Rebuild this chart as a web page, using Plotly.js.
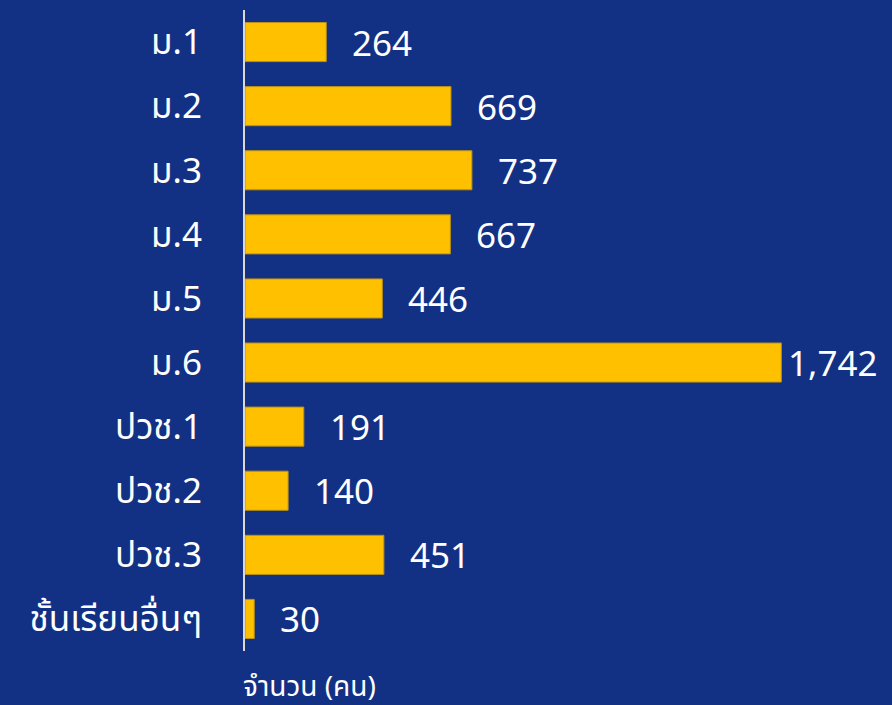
<!DOCTYPE html>
<html>
<head>
<meta charset="utf-8">
<script src="https://cdn.plot.ly/plotly-3.0.1.min.js"></script>
<style>html,body{margin:0;padding:0;background:#133184;}</style>
</head>
<body>
<div id="chart" style="width:892px;height:705px;"></div>
<script>
const categories = ["ม.1","ม.2","ม.3","ม.4","ม.5","ม.6","ปวช.1","ปวช.2","ปวช.3","ชั้นเรียนอื่นๆ"];
const values = [264, 669, 737, 667, 446, 1742, 191, 140, 451, 30];
const valueLabels = ["264","669","737","667","446","1,742","191","140","451","30"];
const axisTitle = "จำนวน (คน)";

const FONT = "Noto Sans, Noto Sans Thai, Tahoma, sans-serif";
const xMax = 1900;
const maxVal = Math.max(...values);

const annotations = categories.map((c, i) => ({
  x: values[i], y: c, xref: "x", yref: "y",
  text: valueLabels[i], showarrow: false,
  xanchor: "left", yanchor: "middle",
  xshift: values[i] === maxVal ? 5 : 24,
  font: {family: FONT, size: 35, color: "#ffffff"}
}));
annotations.push({
  x: 0, y: 0, xref: "paper", yref: "paper",
  text: axisTitle, showarrow: false,
  xanchor: "left", yanchor: "bottom", yshift: -55, xshift: -4,
  font: {family: FONT, size: 28, color: "#ffffff"}
});

Plotly.newPlot("chart", [{
  type: "bar", orientation: "h",
  x: values, y: categories,
  marker: {color: "#FFC000", line: {color: "#B8901A", width: 1}},
  hoverinfo: "none"
}], {
  width: 892, height: 705,
  paper_bgcolor: "#133184", plot_bgcolor: "#133184",
  margin: {l: 245, r: 62, t: 10, b: 54},
  bargap: 0.39,
  showlegend: false,
  xaxis: {range: [0, xMax], showgrid: false, zeroline: false, showticklabels: false, showline: false, fixedrange: true},
  yaxis: {
    autorange: "reversed", showgrid: false, zeroline: false,
    showline: true, linecolor: "#d9d9d9", linewidth: 2,
    ticks: "", ticklabelstandoff: 34,
    tickfont: {family: FONT, size: 35, color: "#ffffff"}
  },
  annotations: annotations
}, {staticPlot: true});
</script>
</body>
</html>
